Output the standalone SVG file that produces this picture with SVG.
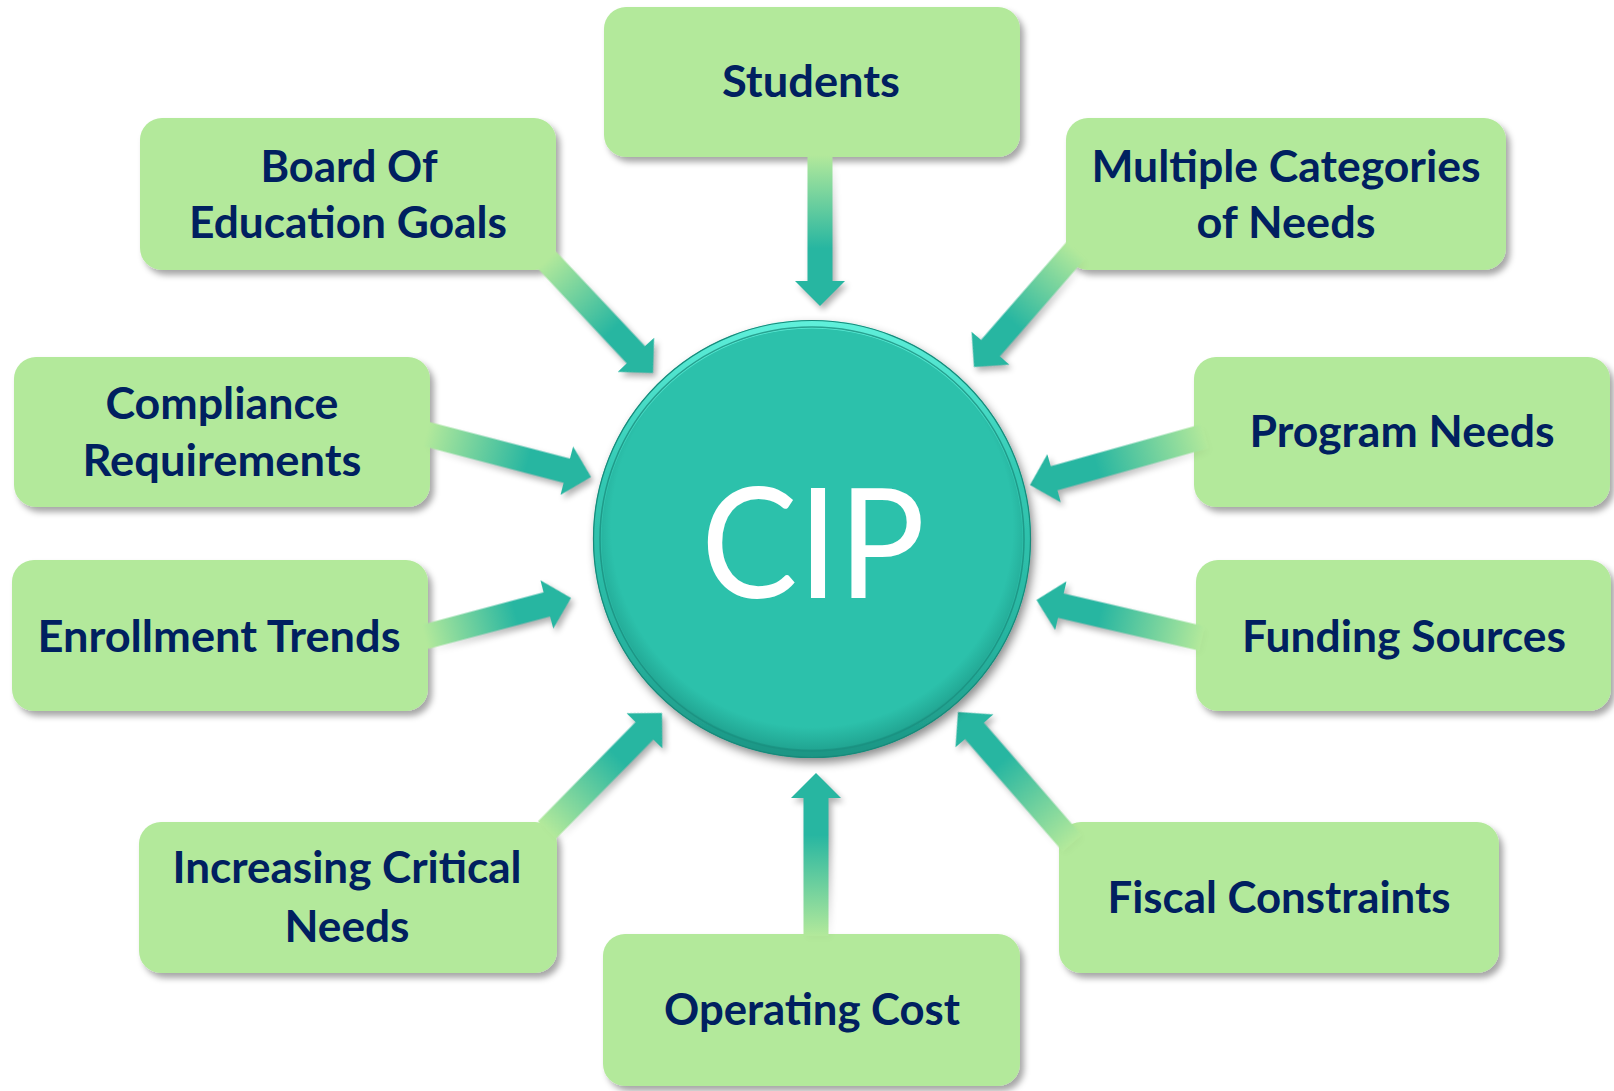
<svg xmlns="http://www.w3.org/2000/svg" width="1614" height="1091" viewBox="0 0 1614 1091">
<style>
.box{fill:#b3e99b;filter:url(#sh)}
.lbl{font-family:Lato,"Open Sans","Liberation Sans",sans-serif;font-weight:700;font-size:43px;fill:#002060;text-anchor:middle}
.arr{fill:url(#ag)}
.cip{font-family:Lato,"Open Sans","Liberation Sans",sans-serif;font-weight:400;font-size:154px;fill:#ffffff;text-anchor:middle}
</style>
<defs>
<filter id="sh" x="-10%" y="-15%" width="125%" height="140%">
<feDropShadow dx="4" dy="5" stdDeviation="3" flood-color="#000" flood-opacity="0.35"/>
</filter>
<filter id="ash" x="-10%" y="-10%" width="125%" height="125%" color-interpolation-filters="sRGB">
<feColorMatrix in="SourceGraphic" type="matrix" values="0 0 0 0 0  0 0 0 0 0  0 0 0 0 0  -1.6 0 0 0 1.15" result="dark"/>
<feComposite in="dark" in2="SourceAlpha" operator="in" result="m"/>
<feGaussianBlur in="m" stdDeviation="3" result="b"/>
<feOffset in="b" dx="3" dy="4" result="o"/>
<feComponentTransfer in="o" result="s"><feFuncA type="linear" slope="0.35"/></feComponentTransfer>
<feMerge><feMergeNode in="s"/><feMergeNode in="SourceGraphic"/></feMerge>
</filter>
<filter id="csh" x="-15%" y="-15%" width="135%" height="135%">
<feDropShadow dx="3" dy="5" stdDeviation="5" flood-color="#000" flood-opacity="0.45"/>
</filter>
<linearGradient id="ag" x1="0" y1="0" x2="1" y2="0">
<stop offset="0" stop-color="#b3e99b"/>
<stop offset="0.62" stop-color="#27b6a1"/>
<stop offset="1" stop-color="#27b6a1"/>
</linearGradient>
<linearGradient id="rim" x1="0" y1="0" x2="0" y2="1">
<stop offset="0" stop-color="#5ff0db"/>
<stop offset="0.35" stop-color="#33c9b3"/>
<stop offset="0.75" stop-color="#27b39f"/>
<stop offset="1" stop-color="#1c9584"/>
</linearGradient>
<radialGradient id="disk" cx="0.5" cy="0.47" r="0.53">
<stop offset="0" stop-color="#2cc1ab"/>
<stop offset="0.9" stop-color="#2cc1ab"/>
<stop offset="1" stop-color="#21a592"/>
</radialGradient>
</defs>
<rect width="1614" height="1091" fill="#ffffff"/>

<g id="node-students"><rect class="box" x="604" y="7" width="416" height="150" rx="22"/><text class="lbl" x="811" y="97" textLength="178" lengthAdjust="spacingAndGlyphs">Students</text></g>
<g id="node-board"><rect class="box" x="140" y="118" width="416" height="152" rx="22"/><text class="lbl" x="349" y="182" textLength="177" lengthAdjust="spacingAndGlyphs">Board Of</text><text class="lbl" x="348" y="238" textLength="318" lengthAdjust="spacingAndGlyphs">Education Goals</text></g>
<g id="node-multiple"><rect class="box" x="1066" y="118" width="440" height="152" rx="22"/><text class="lbl" x="1286" y="182" textLength="389" lengthAdjust="spacingAndGlyphs">Multiple Categories</text><text class="lbl" x="1286" y="238" textLength="179" lengthAdjust="spacingAndGlyphs">of Needs</text></g>
<g id="node-compliance"><rect class="box" x="14" y="357" width="416" height="150" rx="22"/><text class="lbl" x="222" y="419" textLength="233" lengthAdjust="spacingAndGlyphs">Compliance</text><text class="lbl" x="222" y="476" textLength="279" lengthAdjust="spacingAndGlyphs">Requirements</text></g>
<g id="node-program"><rect class="box" x="1194" y="357" width="416" height="150" rx="22"/><text class="lbl" x="1402" y="447" textLength="305" lengthAdjust="spacingAndGlyphs">Program Needs</text></g>
<g id="node-enrollment"><rect class="box" x="12" y="560" width="416" height="151" rx="22"/><text class="lbl" x="219" y="652" textLength="363" lengthAdjust="spacingAndGlyphs">Enrollment Trends</text></g>
<g id="node-funding"><rect class="box" x="1196" y="560" width="415" height="151" rx="22"/><text class="lbl" x="1404" y="652" textLength="324" lengthAdjust="spacingAndGlyphs">Funding Sources</text></g>
<g id="node-increasing"><rect class="box" x="139" y="822" width="418" height="151" rx="22"/><text class="lbl" x="347" y="883" textLength="349" lengthAdjust="spacingAndGlyphs">Increasing Critical</text><text class="lbl" x="347" y="942" textLength="125" lengthAdjust="spacingAndGlyphs">Needs</text></g>
<g id="node-fiscal"><rect class="box" x="1059" y="822" width="440" height="151" rx="22"/><text class="lbl" x="1279" y="913" textLength="343" lengthAdjust="spacingAndGlyphs">Fiscal Constraints</text></g>
<g id="node-operating"><rect class="box" x="603" y="934" width="417" height="152" rx="22"/><text class="lbl" x="812" y="1025" textLength="296" lengthAdjust="spacingAndGlyphs">Operating Cost</text></g>

<g id="connectors" filter="url(#ash)">
<path class="arr" transform="translate(820,306) rotate(90)" d="M-151,-12.5 L-25,-12.5 L-25,-25 L0,0 L-25,25 L-25,12.5 L-151,12.5 Z"/>
<path class="arr" transform="translate(653,373) rotate(46.8)" d="M-155,-12.5 L-25,-12.5 L-25,-25 L0,0 L-25,25 L-25,12.5 L-155,12.5 Z"/>
<path class="arr" transform="translate(974,367) rotate(131.1)" d="M-155,-12.5 L-25,-12.5 L-25,-25 L0,0 L-25,25 L-25,12.5 L-155,12.5 Z"/>
<path class="arr" transform="translate(591,477) rotate(14.6)" d="M-170,-12.5 L-25,-12.5 L-25,-25 L0,0 L-25,25 L-25,12.5 L-170,12.5 Z"/>
<path class="arr" transform="translate(571,598) rotate(-14.9)" d="M-151,-12.5 L-25,-12.5 L-25,-25 L0,0 L-25,25 L-25,12.5 L-151,12.5 Z"/>
<path class="arr" transform="translate(1030,485) rotate(164.4)" d="M-182,-12.5 L-25,-12.5 L-25,-25 L0,0 L-25,25 L-25,12.5 L-182,12.5 Z"/>
<path class="arr" transform="translate(1036.5,600) rotate(193.1)" d="M-170,-12.5 L-25,-12.5 L-25,-25 L0,0 L-25,25 L-25,12.5 L-170,12.5 Z"/>
<path class="arr" transform="translate(662,713) rotate(-45.5)" d="M-164,-12.5 L-25,-12.5 L-25,-25 L0,0 L-25,25 L-25,12.5 L-164,12.5 Z"/>
<path class="arr" transform="translate(816,773) rotate(-90)" d="M-163,-12.5 L-25,-12.5 L-25,-25 L0,0 L-25,25 L-25,12.5 L-163,12.5 Z"/>
<path class="arr" transform="translate(958,712) rotate(-131)" d="M-174,-12.5 L-25,-12.5 L-25,-25 L0,0 L-25,25 L-25,12.5 L-174,12.5 Z"/>
</g>

<g id="node-cip">
<circle cx="812" cy="539" r="219" fill="url(#rim)" filter="url(#csh)"/>
<circle cx="812" cy="539" r="218.5" fill="none" stroke="#178a7a" stroke-width="1.2"/>
<circle cx="812" cy="539" r="212" fill="none" stroke="#1a907f" stroke-width="1.5" opacity="0.8"/>
<circle cx="812" cy="539" r="210.5" fill="url(#disk)"/>
<text class="cip" x="813" y="598" textLength="224" lengthAdjust="spacingAndGlyphs">CIP</text>
</g>
</svg>
